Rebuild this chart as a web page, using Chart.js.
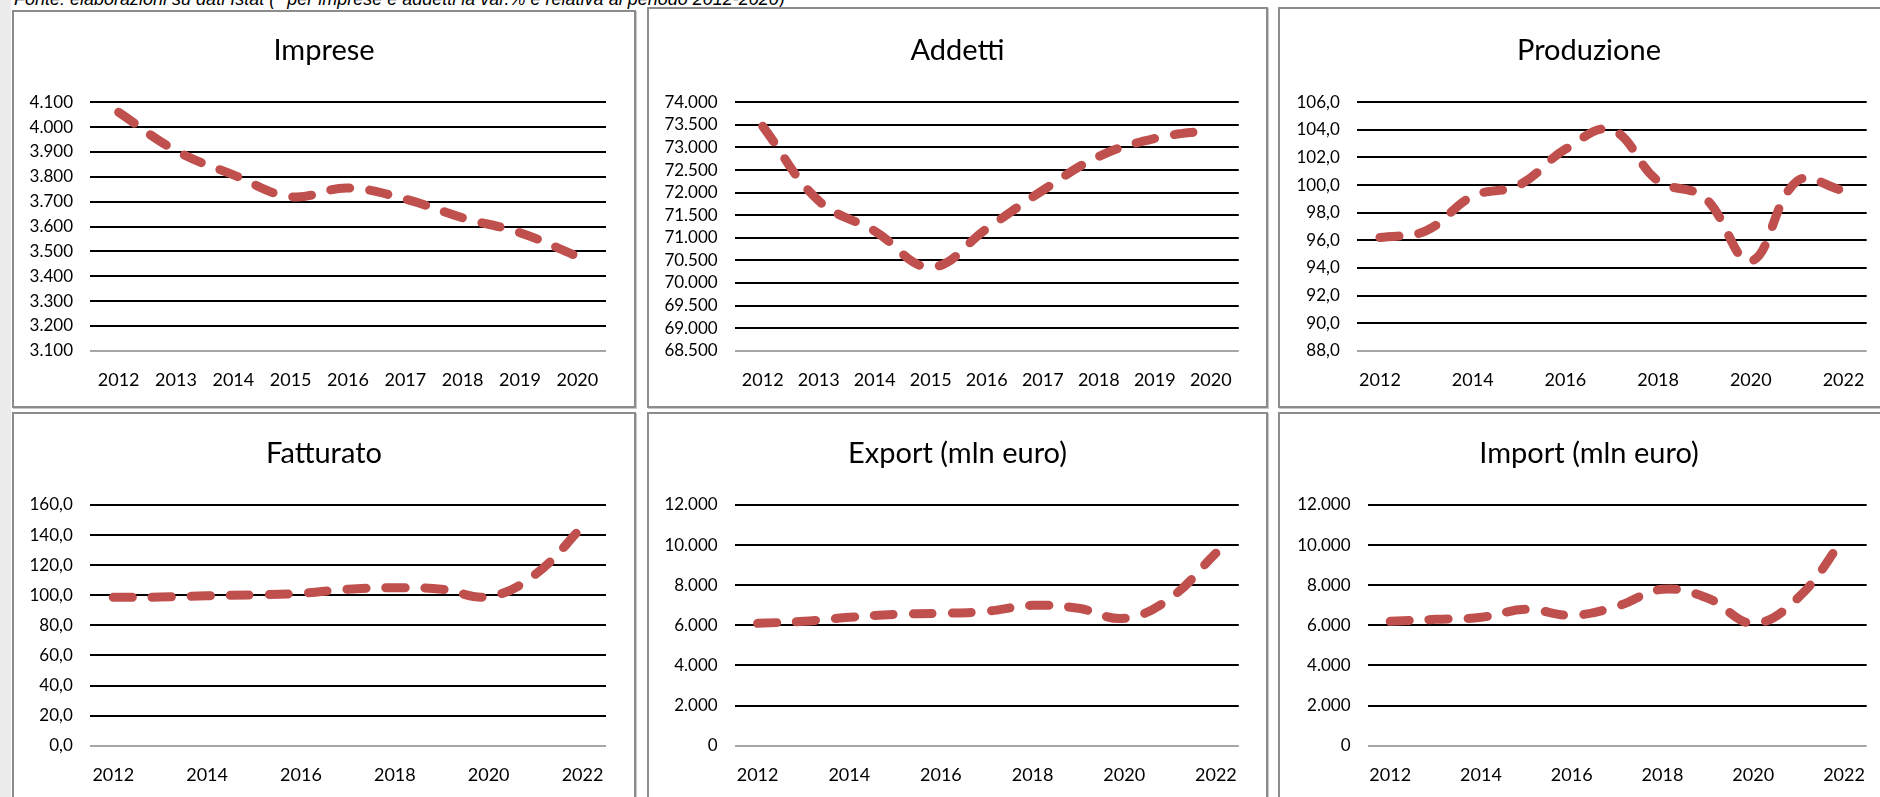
<!DOCTYPE html>
<html>
<head>
<meta charset="utf-8">
<script src="https://cdn.jsdelivr.net/npm/chart.js@4"></script>
<style>
body{margin:0;width:1880px;height:797px;overflow:hidden;background:#fff;position:relative;font-family:Lato,sans-serif}
#strip{position:absolute;left:0;top:0;width:11px;height:797px;background:#ececec}
#fonte{position:absolute;left:14px;top:-11px;font:italic 18px "Liberation Sans",sans-serif;white-space:nowrap;color:#000}
.panel{position:absolute;border:2px solid #8c8c8c;box-shadow:1px 1px 0 #c8c8c8;background:#fff}
canvas{position:absolute}
</style>
</head>
<body>
<div id="strip"></div>
<div id="fonte">Fonte: elaborazioni su dati Istat (* per imprese e addetti la var.% è relativa al periodo 2012-2020)</div>

<div class="panel" style="left:12px;top:10px;width:620px;height:394px"></div>
<div class="panel" style="left:647px;top:7px;width:617px;height:397px"></div>
<div class="panel" style="left:1278px;top:7px;width:620px;height:397px"></div>
<div class="panel" style="left:12px;top:412px;width:620px;height:400px"></div>
<div class="panel" style="left:647px;top:412px;width:617px;height:400px"></div>
<div class="panel" style="left:1278px;top:412px;width:620px;height:400px"></div>

<canvas id="c1"></canvas>
<canvas id="c2"></canvas>
<canvas id="c3"></canvas>
<canvas id="c4"></canvas>
<canvas id="c5"></canvas>
<canvas id="c6"></canvas>

<script>
// anni
const years2020 = ["2012","2013","2014","2015","2016","2017","2018","2019","2020"]
const years2022 = ["2012","2013","2014","2015","2016","2017","2018","2019","2020","2021","2022"]

// serie
const imprese = [4060, 3905, 3808, 3720, 3755, 3710, 3635, 3575, 3480]
const addetti = [73470, 71820, 71150, 70350, 71200, 72050, 72800, 73200, 73390]
const produzione = [96.2, 96.7, 99.2, 100.0, 102.6, 104.0, 100.3, 99.1, 94.5, 100.3, 99.6]
const fatturato = [98.6, 98.8, 99.7, 100.2, 101.3, 104.0, 105.0, 104.0, 99.1, 114.0, 145.6]
const exportMln = [6100, 6200, 6400, 6550, 6600, 6700, 7000, 6850, 6350, 7350, 9600]
const importMln = [6200, 6300, 6400, 6800, 6500, 6950, 7800, 7350, 6100, 7400, 10350]

// assi y: min, max, passo, decimali
const impreseAxis = [3100, 4100, 100, 0]
const addettiAxis = [68500, 74000, 500, 0]
const produzioneAxis = [88, 106, 2, 1]
const fatturatoAxis = [0, 160, 20, 1]
const exportAxis = [0, 12000, 2000, 0]
const importAxis = [0, 12000, 2000, 0]

Chart.defaults.font.family = "Lato"
Chart.defaults.color = "#000"

function fmtIt(v, d){
  let s = v.toFixed(d)
  let parts = s.split(".")
  let i = parts[0].replace(/\B(?=(\d{3})+(?!\d))/g, ".")
  return parts.length > 1 ? i + "," + parts[1] : i
}

// box = canvas in page coords, plot = chart area in page coords
function makeChart(id, box, plot, titleMid, title, labels, values, axis, everyOther){

  const canvas = document.getElementById(id)
  canvas.width = box.w
  canvas.height = box.h
  canvas.style.left = box.x + "px"
  canvas.style.top = box.y + "px"

  const xAxisH = 40
  const padTop = titleMid - box.y - 17.4
  const padBottom = plot.t - box.y - padTop - 34.8
  // empty space right of the plot, taken by a blank axis so the title stays centred on the panel
  const side = box.x + box.w - plot.r

  new Chart(canvas, {
    type: "line",
    data: {
      labels: labels,
      datasets: [{
        data: values,
        borderColor: "#c0504d",
        borderWidth: 9,
        borderDash: [19, 20],
        borderCapStyle: "round",
        borderJoinStyle: "round",
        tension: 0.4,
        pointRadius: 0,
        fill: false,
        clip: false
      }]
    },
    options: {
      responsive: false,
      animation: false,
      layout: {
        padding: {left: 0, top: 0, right: 0, bottom: box.y + box.h - plot.b - xAxisH}
      },
      plugins: {
        legend: {display: false},
        tooltip: {enabled: false},
        title: {
          display: true,
          text: title,
          color: "#000",
          font: {size: 29, weight: "normal"},
          padding: {top: padTop, bottom: padBottom}
        }
      },
      scales: {
        x: {
          offset: true,
          grid: {display: false, drawTicks: false},
          border: {display: false},
          ticks: {
            autoSkip: false,
            maxRotation: 0,
            padding: 19,
            font: {size: 18},
            callback: function(val, index){
              if (everyOther && index % 2 === 1) return ""
              return this.getLabelForValue(val)
            }
          },
          afterFit: s => { s.height = xAxisH }
        },
        y: {
          min: axis[0],
          max: axis[1],
          grid: {
            drawTicks: false,
            lineWidth: 2,
            color: ctx => ctx.index === 0 ? "#a6a6a6" : "#000"
          },
          border: {display: false},
          ticks: {
            stepSize: axis[2],
            autoSkip: false,
            padding: 17,
            font: {size: 17},
            callback: v => fmtIt(v, axis[3])
          },
          afterFit: s => { s.width = plot.l - box.x }
        },
        spacer: {
          type: "linear",
          position: "right",
          display: true,
          grid: {display: false, drawTicks: false},
          border: {display: false},
          ticks: {display: false},
          afterFit: s => { s.width = side }
        }
      }
    }
  })
}

makeChart("c1", {x:14, y:12, w:620, h:394}, {l:90, r:606, t:102.3, b:350.7}, 51, "Imprese", years2020, imprese, impreseAxis, false)
makeChart("c2", {x:649, y:12, w:617, h:394}, {l:734.7, r:1238.8, t:102.3, b:350.7}, 51, "Addetti", years2020, addetti, addettiAxis, false)
makeChart("c3", {x:1280, y:12, w:618, h:394}, {l:1356.8, r:1866.7, t:102.3, b:350.7}, 51, "Produzione", years2022, produzione, produzioneAxis, true)
makeChart("c4", {x:14, y:415, w:620, h:382}, {l:89.8, r:606, t:505, b:745.7}, 454, "Fatturato", years2022, fatturato, fatturatoAxis, true)
makeChart("c5", {x:649, y:415, w:617, h:382}, {l:734.7, r:1238.8, t:505, b:745.7}, 454, "Export (mln euro)", years2022, exportMln, exportAxis, true)
makeChart("c6", {x:1280, y:415, w:618, h:382}, {l:1367.5, r:1866.7, t:505, b:745.7}, 454, "Import (mln euro)", years2022, importMln, importAxis, true)
</script>
</body>
</html>
